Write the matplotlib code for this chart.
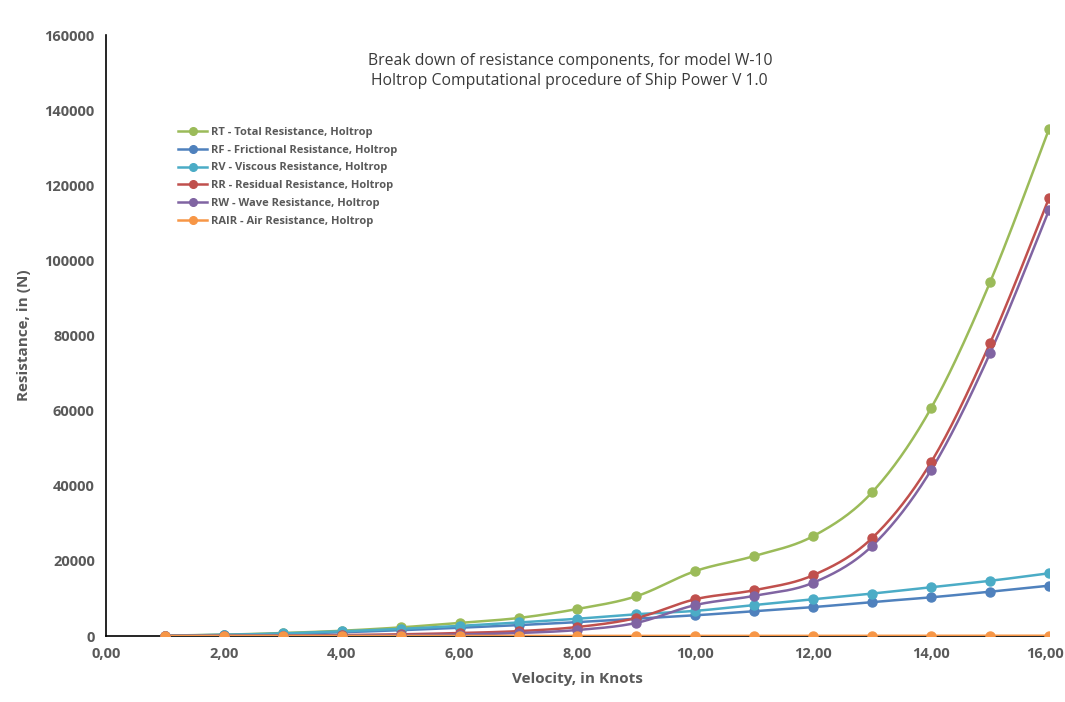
import numpy as np
import matplotlib
matplotlib.use("Agg")
import matplotlib.pyplot as plt
from matplotlib.lines import Line2D
import matplotlib.transforms as mtransforms

velocity = [1, 2, 3, 4, 5, 6, 7, 8, 9, 10, 11, 12, 13, 14, 15, 16]
rt = [100, 350, 800, 1400, 2300, 3500, 4800, 7200, 10600, 17300, 21300, 26600, 38300, 60700, 94200, 135000]
rf = [70, 260, 580, 1000, 1550, 2200, 2900, 3700, 4600, 5500, 6650, 7700, 9050, 10300, 11800, 13400]
rv = [80, 300, 700, 1250, 1900, 2700, 3600, 4600, 5800, 6700, 8250, 9800, 11300, 13000, 14700, 16700]
rr = [20, 50, 100, 250, 450, 800, 1300, 2400, 4800, 9800, 12200, 16200, 26100, 46300, 78000, 116600]
rw = [10, 30, 60, 120, 200, 400, 800, 1600, 3500, 8250, 10700, 14200, 24000, 44200, 75300, 113400]
rair = [0, 1, 3, 5, 8, 11, 15, 20, 25, 31, 37, 44, 52, 60, 69, 78]

labels = ["RT - Total Resistance, Holtrop",
          "RF - Frictional Resistance, Holtrop",
          "RV - Viscous Resistance, Holtrop",
          "RR - Residual Resistance, Holtrop",
          "RW - Wave Resistance, Holtrop",
          "RAIR - Air Resistance, Holtrop"]
colors = ["#9BBB59", "#4F81BD", "#4BACC6", "#C0504D", "#8064A2", "#F79646"]
series = [rt, rf, rv, rr, rw, rair]

x_ticks = [0, 2, 4, 6, 8, 10, 12, 14, 16]
y_ticks = [0, 20000, 40000, 60000, 80000, 100000, 120000, 140000, 160000]

plt.rcParams['font.family'] = ['Open Sans', 'DejaVu Sans']


def smooth(xs, ys, n=30):
    # Excel-like smoothed line: cubic Bezier segments with Catmull-Rom control points
    xs = np.asarray(xs, float)
    ys = np.asarray(ys, float)
    px, py = [], []
    N = len(xs)
    for i in range(N - 1):
        x0, y0 = (xs[i - 1], ys[i - 1]) if i > 0 else (xs[i], ys[i])
        x1, y1 = xs[i], ys[i]
        x2, y2 = xs[i + 1], ys[i + 1]
        x3, y3 = (xs[i + 2], ys[i + 2]) if i + 2 < N else (xs[i + 1], ys[i + 1])
        c1x = x1 + (x2 - x0) / 6
        c1y = y1 + (y2 - y0) / 6
        c2x = x2 - (x3 - x1) / 6
        c2y = y2 - (y3 - y1) / 6
        t = np.linspace(0, 1, n)
        bx = (1 - t) ** 3 * x1 + 3 * (1 - t) ** 2 * t * c1x + 3 * (1 - t) * t ** 2 * c2x + t ** 3 * x2
        by = (1 - t) ** 3 * y1 + 3 * (1 - t) ** 2 * t * c1y + 3 * (1 - t) * t ** 2 * c2y + t ** 3 * y2
        px.extend(bx)
        py.extend(by)
    return px, py


fig = plt.figure(figsize=(10.65, 7.02), dpi=100)
ax = fig.add_axes([0.0995, 0.094, 0.8855, 0.856])

handles = []
for ys, c, lab in zip(series, colors, labels):
    sx, sy = smooth(velocity, ys)
    ax.plot(sx, sy, color=c, lw=1.8, zorder=3, solid_capstyle='round')
    ax.plot(velocity, ys, 'o', color=c, ms=6.5, zorder=4)
    handles.append(Line2D([0], [0], color=c, lw=1.8, marker='o', ms=5.5, label=lab))

ax.set_xlim(0, 16)
ax.set_ylim(0, 160000)
ax.set_xticks(x_ticks)
ax.set_xticklabels([f"{v:.2f}".replace('.', ',') for v in x_ticks])
ax.set_yticks(y_ticks)
ax.set_yticklabels([str(v) for v in y_ticks])
ax.tick_params(length=0, pad=8, labelsize=10.5, labelcolor='#595959')
for lbl in ax.get_xticklabels() + ax.get_yticklabels():
    lbl.set_fontweight('bold')
last = ax.get_xticklabels()[-1]
last.set_transform(last.get_transform() + mtransforms.ScaledTranslation(-4 / 100, 0, fig.dpi_scale_trans))
for s in ['top', 'right']:
    ax.spines[s].set_visible(False)
for s in ['left', 'bottom']:
    ax.spines[s].set_color('black')
    ax.spines[s].set_linewidth(1.2)

ax.set_xlabel("Velocity, in Knots", fontsize=11, fontweight='bold', color='#595959', labelpad=8)
ax.set_ylabel("Resistance, in (N)", fontsize=11, fontweight='bold', color='#595959', labelpad=10)

fig.text(0.535, 0.899, "Break down of resistance components, for model W-10\nHoltrop Computational procedure of Ship Power V 1.0",
         ha='center', va='center', fontsize=11.3, color='#3a3a3a', linespacing=1.35)

leg = ax.legend(handles=handles, loc='upper left', bbox_to_anchor=(0.072, 0.855), frameon=False,
                fontsize=8, labelspacing=0.62, handlelength=2.6, handletextpad=0.3, borderaxespad=0)
for t in leg.get_texts():
    t.set_color('#595959')
    t.set_fontweight('bold')

fig.savefig("out.png", dpi=100)
